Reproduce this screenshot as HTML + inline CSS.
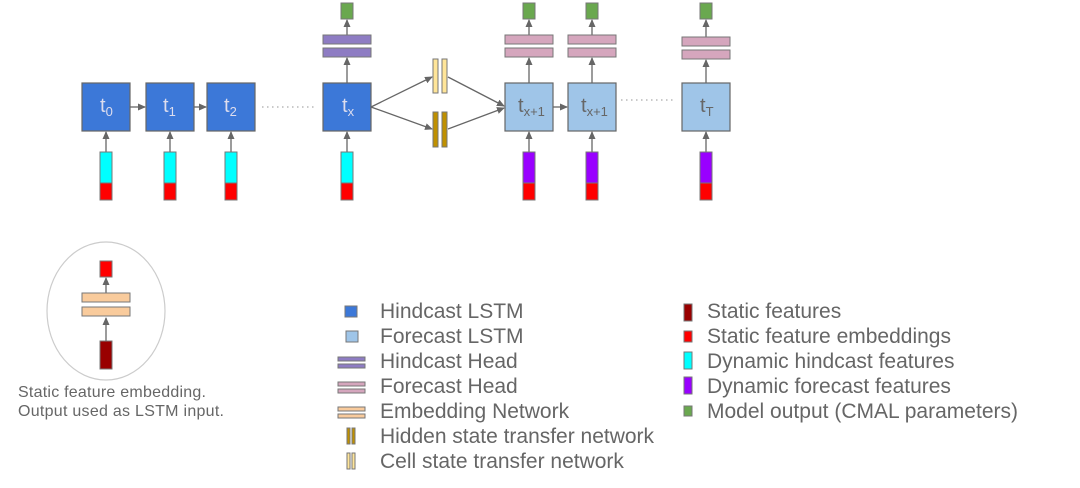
<!DOCTYPE html>
<html><head><style>
body{margin:0;background:#fff;width:1080px;height:483px;overflow:hidden}
svg text{font-family:"Liberation Sans",sans-serif;fill:#666}
</style></head><body>
<svg width="1080" height="483" viewBox="0 0 1080 483">
<defs><marker id="a" markerWidth="8" markerHeight="8" refX="7" refY="4" orient="auto" markerUnits="userSpaceOnUse"><path d="M0,0.5 L8,4 L0,7.5z" fill="#666"/></marker></defs>
<g stroke="#666" stroke-width="1.3" fill="none">
<line x1="130" y1="107" x2="145" y2="107" marker-end="url(#a)"/>
<line x1="194" y1="107" x2="206" y2="107" marker-end="url(#a)"/>
<line x1="553" y1="107" x2="567" y2="107" marker-end="url(#a)"/>
<line x1="371" y1="107" x2="432" y2="77" marker-end="url(#a)"/>
<line x1="371" y1="107" x2="432" y2="129" marker-end="url(#a)"/>
<line x1="448" y1="77" x2="504" y2="106" marker-end="url(#a)"/>
<line x1="448" y1="129" x2="504" y2="108" marker-end="url(#a)"/>
<line x1="262" y1="107" x2="315" y2="107" stroke="#aaa" stroke-dasharray="1.5 3.5"/>
<line x1="621" y1="100" x2="673" y2="100" stroke="#aaa" stroke-dasharray="1.5 3.5"/>
<line x1="106" y1="152" x2="106" y2="132" marker-end="url(#a)"/>
<line x1="170" y1="152" x2="170" y2="132" marker-end="url(#a)"/>
<line x1="231" y1="152" x2="231" y2="132" marker-end="url(#a)"/>
<line x1="347" y1="152" x2="347" y2="132" marker-end="url(#a)"/>
<line x1="529" y1="152" x2="529" y2="132" marker-end="url(#a)"/>
<line x1="592" y1="152" x2="592" y2="132" marker-end="url(#a)"/>
<line x1="706" y1="152" x2="706" y2="132" marker-end="url(#a)"/>
<line x1="347" y1="83" x2="347" y2="58" marker-end="url(#a)"/>
<line x1="529" y1="83" x2="529" y2="58" marker-end="url(#a)"/>
<line x1="592" y1="83" x2="592" y2="58" marker-end="url(#a)"/>
<line x1="706" y1="83" x2="706" y2="60" marker-end="url(#a)"/>
<line x1="347" y1="35" x2="347" y2="20" marker-end="url(#a)"/>
<line x1="529" y1="35" x2="529" y2="20" marker-end="url(#a)"/>
<line x1="592" y1="35" x2="592" y2="20" marker-end="url(#a)"/>
<line x1="706" y1="37" x2="706" y2="20" marker-end="url(#a)"/>
</g>
<g stroke="#777">
<rect x="100" y="152" width="12" height="31" fill="#0ff"/><rect x="100" y="183" width="12" height="17" fill="#f00"/>
<rect x="164" y="152" width="12" height="31" fill="#0ff"/><rect x="164" y="183" width="12" height="17" fill="#f00"/>
<rect x="225" y="152" width="12" height="31" fill="#0ff"/><rect x="225" y="183" width="12" height="17" fill="#f00"/>
<rect x="341" y="152" width="12" height="31" fill="#0ff"/><rect x="341" y="183" width="12" height="17" fill="#f00"/>
<rect x="523" y="152" width="12" height="31" fill="#90f"/><rect x="523" y="183" width="12" height="17" fill="#f00"/>
<rect x="586" y="152" width="12" height="31" fill="#90f"/><rect x="586" y="183" width="12" height="17" fill="#f00"/>
<rect x="700" y="152" width="12" height="31" fill="#90f"/><rect x="700" y="183" width="12" height="17" fill="#f00"/>
</g>
<g stroke="#666" stroke-width="1.2">
<rect x="82" y="83" width="48" height="48" fill="#3c78d8"/>
<rect x="146" y="83" width="48" height="48" fill="#3c78d8"/>
<rect x="207" y="83" width="48" height="48" fill="#3c78d8"/>
<rect x="323" y="83" width="48" height="48" fill="#3c78d8"/>
<rect x="505" y="83" width="48" height="48" fill="#9fc5e8"/>
<rect x="568" y="83" width="48" height="48" fill="#9fc5e8"/>
<rect x="682" y="83" width="48" height="48" fill="#9fc5e8"/>
</g>
<g stroke="#777">
<rect x="323" y="35" width="48" height="9" fill="#8e7cc3"/><rect x="323" y="48" width="48" height="9" fill="#8e7cc3"/>
<rect x="505" y="35" width="48" height="9" fill="#d5a6bd"/><rect x="505" y="48" width="48" height="9" fill="#d5a6bd"/>
<rect x="568" y="35" width="48" height="9" fill="#d5a6bd"/><rect x="568" y="48" width="48" height="9" fill="#d5a6bd"/>
<rect x="682" y="37" width="48" height="9" fill="#d5a6bd"/><rect x="682" y="50" width="48" height="9" fill="#d5a6bd"/>
<rect x="341" y="3" width="12" height="16" fill="#6aa84f"/>
<rect x="523" y="3" width="12" height="16" fill="#6aa84f"/>
<rect x="586" y="3" width="12" height="16" fill="#6aa84f"/>
<rect x="700" y="3" width="12" height="16" fill="#6aa84f"/>
<rect x="433" y="59" width="5" height="34" fill="#ffe599"/><rect x="442" y="59" width="5" height="34" fill="#ffe599"/>
<rect x="433" y="112" width="5" height="35" fill="#bf9000"/><rect x="442" y="112" width="5" height="35" fill="#bf9000"/>
</g>
<g font-size="20">
<text x="100" y="112" style="fill:#dde">t<tspan font-size="13" dy="4">0</tspan></text>
<text x="163" y="112" style="fill:#dde">t<tspan font-size="13" dy="4">1</tspan></text>
<text x="224" y="112" style="fill:#dde">t<tspan font-size="13" dy="4">2</tspan></text>
<text x="342" y="112" style="fill:#dde">t<tspan font-size="13" dy="4">x</tspan></text>
<text x="518" y="112">t<tspan font-size="13" dy="4">x+1</tspan></text>
<text x="581" y="112">t<tspan font-size="13" dy="4">x+1</tspan></text>
<text x="700" y="112">t<tspan font-size="13" dy="4">T</tspan></text>
</g>
<ellipse cx="106" cy="311" rx="59" ry="69" fill="none" stroke="#ccc" stroke-width="1.2"/>
<g stroke="#666" stroke-width="1.3"><line x1="106" y1="341" x2="106" y2="318" marker-end="url(#a)"/><line x1="106" y1="293" x2="106" y2="278" marker-end="url(#a)"/></g>
<g stroke="#777"><rect x="100" y="261" width="12" height="16" fill="#f00"/>
<rect x="82" y="293" width="48" height="9" fill="#f9cb9c"/><rect x="82" y="307" width="48" height="9" fill="#f9cb9c"/>
<rect x="100" y="341" width="12" height="28" fill="#900"/></g>
<text x="18" y="397" font-size="16" textLength="188">Static feature embedding.</text>
<text x="18" y="416" font-size="16" textLength="206">Output used as LSTM input.</text>
<g stroke="#777">
<rect x="345" y="306" width="12" height="11" fill="#3c78d8"/>
<rect x="346" y="331" width="12" height="11" fill="#9fc5e8"/>
<rect x="338" y="357" width="27" height="4" fill="#8e7cc3"/><rect x="338" y="364" width="27" height="4" fill="#8e7cc3"/>
<rect x="338" y="382" width="27" height="4" fill="#d5a6bd"/><rect x="338" y="389" width="27" height="4" fill="#d5a6bd"/>
<rect x="338" y="407" width="27" height="4" fill="#f9cb9c"/><rect x="338" y="414" width="27" height="4" fill="#f9cb9c"/>
<rect x="347" y="428" width="3" height="16" fill="#bf9000"/><rect x="352" y="428" width="3" height="16" fill="#bf9000"/>
<rect x="347" y="453" width="3" height="16" fill="#ffe599"/><rect x="352" y="453" width="3" height="16" fill="#ffe599"/>
<rect x="684" y="304" width="8" height="17" fill="#900"/>
<rect x="684" y="331" width="8" height="11" fill="#f00"/>
<rect x="684" y="352" width="8" height="17" fill="#0ff"/>
<rect x="684" y="377" width="8" height="17" fill="#90f"/>
<rect x="684" y="406" width="8" height="10" fill="#6aa84f"/>
</g>
<g font-size="21">
<text x="380" y="318">Hindcast LSTM</text>
<text x="380" y="343">Forecast LSTM</text>
<text x="380" y="368">Hindcast Head</text>
<text x="380" y="393">Forecast Head</text>
<text x="380" y="418">Embedding Network</text>
<text x="380" y="443" textLength="274">Hidden state transfer network</text>
<text x="380" y="468">Cell state transfer network</text>
<text x="707" y="318">Static features</text>
<text x="707" y="343">Static feature embeddings</text>
<text x="707" y="368">Dynamic hindcast features</text>
<text x="707" y="393">Dynamic forecast features</text>
<text x="707" y="418" textLength="311">Model output (CMAL parameters)</text>
</g>
</svg>
</body></html>
